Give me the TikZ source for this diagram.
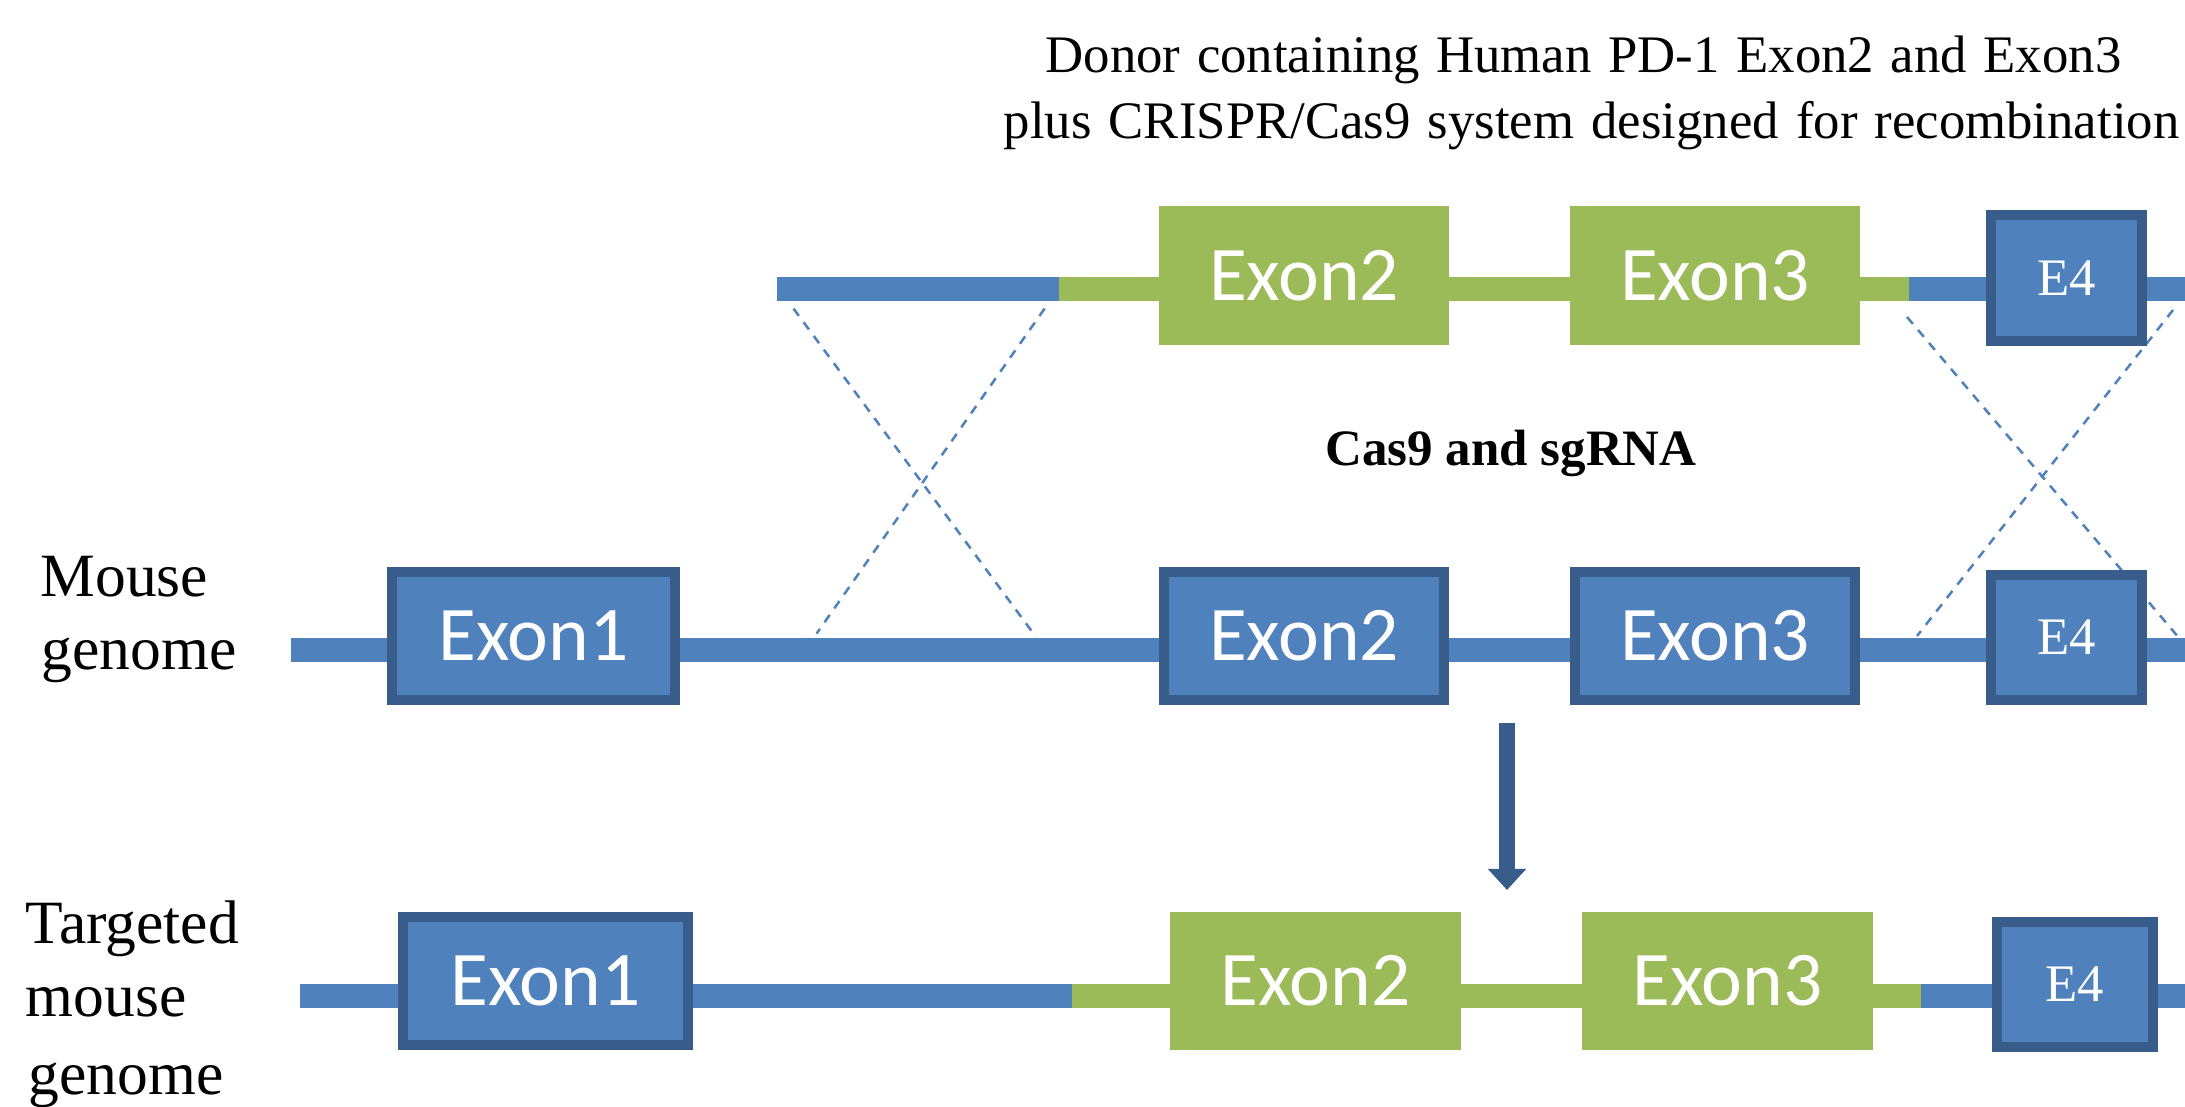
\documentclass[tikz,border=0pt]{standalone}
\usepackage{fontspec}
\setmainfont{Liberation Serif}
\newfontfamily\exfont{Carlito}
\usetikzlibrary{arrows.meta}
\definecolor{exblue}{HTML}{4F81BD}
\definecolor{exdark}{HTML}{385D8A}
\definecolor{exgreen}{HTML}{9BBB59}
\begin{document}
\begin{tikzpicture}[x=0.01cm,y=-0.01cm,
  bluebox/.style={draw=exdark,fill=exblue,line width=0.1cm,inner sep=0pt,text=white},
  greenbox/.style={fill=exgreen,inner sep=0pt,text=white},
  exlabel/.style={font=\exfont\fontsize{22}{26}\selectfont},
  eflabel/.style={font=\fontsize{15}{18}\selectfont},
  gline/.style={line width=0.24cm},
  xline/.style={exblue,line width=0.025cm,dash pattern=on 0.09cm off 0.08cm},
  sidelabel/.style={anchor=base west,inner sep=0pt,font=\fontsize{17.5}{21}\selectfont},
  titlelabel/.style={anchor=base west,inner sep=0pt,font=\fontsize{15}{18}\selectfont},
]
\useasboundingbox (0,0) rectangle (2185,1107);
\clip (0,0) rectangle (2185,1107);
\fill[white] (0,0) rectangle (2185,1107);

% coordinates of genome lines
\coordinate (dA) at (777,289);
\coordinate (dB) at (1059,289);
\coordinate (dC) at (1909,289);
\coordinate (dD) at (2185,289);
\coordinate (mA) at (291,650);
\coordinate (mD) at (2185,650);
\coordinate (tA) at (300,996);
\coordinate (tB) at (1072,996);
\coordinate (tC) at (1921,996);
\coordinate (tD) at (2185,996);

\draw[gline,exblue] (dA) -- (dB);
\draw[gline,exgreen] (dB) -- (dC);
\draw[gline,exblue] (dC) -- (dD);
\draw[gline,exblue] (mA) -- (mD);
\draw[gline,exblue] (tA) -- (tB);
\draw[gline,exgreen] (tB) -- (tC);
\draw[gline,exblue] (tC) -- (tD);

% recombination crosses
\coordinate (xl1) at (793.5,308.6);
\coordinate (xl2) at (1036,637);
\coordinate (xl3) at (1044.6,308.6);
\coordinate (xl4) at (816.6,633.6);
\coordinate (xr1) at (1907,317);
\coordinate (xr2) at (2185,645);
\coordinate (xr3) at (2173,310);
\coordinate (xr4) at (1917,636);
\draw[xline] (xl1) -- (xl2);
\draw[xline] (xl3) -- (xl4);
\draw[xline] (xr1) -- (xr2);
\draw[xline] (xr3) -- (xr4);

% donor row
\node[greenbox,exlabel,minimum width=2.9cm,minimum height=1.39cm] (dExTwo) at (1304,275.5) {Exon2};
\node[greenbox,exlabel,minimum width=2.9cm,minimum height=1.39cm] (dExThree) at (1715,275.5) {Exon3};
\node[bluebox,eflabel,minimum width=1.51cm,minimum height=1.26cm] (dEFour) at (2066.5,278) {E4};

% mouse row
\node[bluebox,exlabel,minimum width=2.83cm,minimum height=1.28cm] (mExOne) at (533.5,636) {Exon1};
\node[bluebox,exlabel,minimum width=2.8cm,minimum height=1.28cm] (mExTwo) at (1304,636) {Exon2};
\node[bluebox,exlabel,minimum width=2.8cm,minimum height=1.28cm] (mExThree) at (1715,636) {Exon3};
\node[bluebox,eflabel,minimum width=1.51cm,minimum height=1.25cm] (mEFour) at (2066.5,637.5) {E4};

% targeted row
\node[bluebox,exlabel,minimum width=2.85cm,minimum height=1.28cm] (tExOne) at (545.5,981) {Exon1};
\node[greenbox,exlabel,minimum width=2.91cm,minimum height=1.38cm] (tExTwo) at (1315.5,981) {Exon2};
\node[greenbox,exlabel,minimum width=2.91cm,minimum height=1.38cm] (tExThree) at (1727.5,981) {Exon3};
\node[bluebox,eflabel,minimum width=1.56cm,minimum height=1.25cm] (tEFour) at (2075,984.5) {E4};

% arrow
\coordinate (arrS) at (1507,723);
\coordinate (arrE) at (1507,890);
\draw[exdark,line width=0.167cm,-{Triangle[width=0.37cm,length=0.21cm]}] (arrS) -- (arrE);

% texts
\node[titlelabel] (title1) at (1045,73) {\makebox[10.75cm][s]{Donor containing Human PD-1 Exon2 and Exon3}};
\node[titlelabel] (title2) at (1003,139) {\makebox[11.75cm][s]{plus CRISPR/Cas9 system designed for recombination}};
\node[anchor=base,inner sep=0pt,font=\bfseries\fontsize{14.5}{17}\selectfont] (cas) at (1511,466) {Cas9 and sgRNA};

\node[sidelabel] (mlab1) at (40,597) {Mouse};
\node[sidelabel] (mlab2) at (41,670) {genome};
\node[sidelabel] (tlab1) at (25,943) {Targeted};
\node[sidelabel] (tlab2) at (25,1016) {mouse};
\node[sidelabel] (tlab3) at (28,1094) {genome};
\end{tikzpicture}
\end{document}
